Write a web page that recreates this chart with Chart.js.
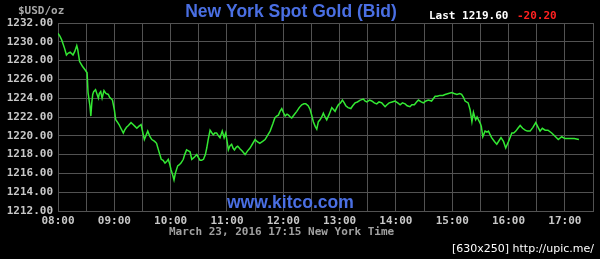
<!DOCTYPE html>
<html>
<head>
<meta charset="utf-8">
<script src="https://cdn.jsdelivr.net/npm/chart.js@4/dist/chart.umd.min.js"></script>
<style>
html,body{margin:0;padding:0;background:#000;}
#wrap{position:relative;width:600px;height:259px;background:#000;}
canvas{display:block;}
</style>
</head>
<body>
<div id="wrap"><canvas id="c" width="600" height="259"></canvas></div>
<script>
// Minutes after 08:00 (New York time)
const minutes = [0,2,4,7,9,11,13,16,18,20,21,23,26,29,31,32,34,35,36,37,38,40,42,43,44,45.5,47,49,51,53.6,55,58,60,61.5,63,65,67,69.6,71,73,75,77.8,80,82,84,86,88.5,90,92,94,95.6,98,100,103,105,107,110,112,114,116,117.5,119,120.4,122,123.6,125,127.5,129,131,133.5,135,137,139,140.7,142.5,145,147.8,149.5,151.3,153,155,157,158.5,160,162,164,165.5,167,169,171,172.6,175,177,178.7,180,181.5,183,185,186.5,188,190,191.5,194,196,199.3,202,204.6,207,210,212,215,218,220.6,223,226,229,231,233,234.8,236.5,238.4,240,242,244,245.6,247.5,249,252,254.4,257,259.7,262,264,266.5,268.6,270,272,274,275.7,277.4,279.2,281,282.7,284.5,286.3,289,291.7,293.5,295.2,297,298.7,301,303,305,306.6,309,312,314,316.5,319,322,325.4,327,329,332,334.3,337,339.6,342,345,348.5,350.5,352.8,356,359,362,364.5,367,369.8,372,375,377,379.7,382,384,387,389.3,392,394.6,398,401.8,404,407,410,412.4,416,419.5,422,425,428,430,432,433.7,437,439,441,442.6,444,445,446.5,448,450,451,452.6,455,457,458.6,460,462,465,467.5,470,472,474.6,477,480,482,483.5,485.5,487.8,490,492.4,495,497.7,500,503,506,509,511,513.6,516,519,522,526,529,533,536.7,540,545,550,555];
const bid = [1230.9,1230.6,1230.2,1229.3,1228.6,1228.8,1228.9,1228.6,1229.0,1229.6,1229.2,1227.9,1227.4,1227.0,1226.7,1224.6,1223.2,1222.1,1223.5,1224.4,1224.7,1224.9,1224.3,1224.0,1224.5,1224.7,1224.0,1224.8,1224.5,1224.4,1224.1,1223.8,1222.8,1221.7,1221.5,1221.2,1220.8,1220.3,1220.6,1220.9,1221.1,1221.4,1221.2,1221.0,1220.8,1221.0,1221.2,1220.5,1219.6,1220.1,1220.5,1219.9,1219.6,1219.4,1219.2,1218.5,1217.5,1217.4,1217.1,1217.3,1217.5,1217.0,1216.4,1215.9,1215.3,1216.0,1216.8,1216.9,1217.1,1217.5,1218.0,1218.5,1218.4,1218.3,1217.5,1217.7,1218.0,1217.7,1217.4,1217.4,1217.5,1218.0,1218.7,1219.6,1220.6,1220.3,1220.1,1220.3,1220.3,1220.0,1219.8,1220.5,1219.8,1220.3,1219.5,1218.5,1218.9,1219.1,1218.7,1218.5,1218.8,1218.9,1218.6,1218.4,1218.0,1218.4,1218.7,1219.1,1219.6,1219.4,1219.2,1219.4,1219.6,1220.0,1220.5,1221.3,1221.9,1222.1,1222.2,1222.6,1222.9,1222.5,1222.1,1222.3,1222.2,1222.0,1221.9,1222.3,1222.6,1223.0,1223.3,1223.4,1223.4,1223.2,1222.8,1222.3,1221.5,1221.0,1220.7,1221.5,1221.7,1222.0,1222.4,1222.0,1221.7,1222.3,1223.0,1222.8,1222.6,1223.0,1223.3,1223.5,1223.8,1223.5,1223.2,1223.0,1222.9,1223.2,1223.5,1223.6,1223.8,1223.9,1223.7,1223.6,1223.8,1223.7,1223.5,1223.4,1223.6,1223.5,1223.1,1223.3,1223.5,1223.6,1223.7,1223.5,1223.3,1223.5,1223.4,1223.2,1223.1,1223.3,1223.3,1223.6,1223.8,1223.6,1223.5,1223.7,1223.8,1223.7,1224.2,1224.2,1224.3,1224.3,1224.4,1224.5,1224.6,1224.5,1224.4,1224.5,1224.4,1224.1,1223.7,1223.5,1222.8,1221.5,1222.5,1222.0,1221.7,1222.0,1221.7,1221.3,1221.0,1219.9,1220.5,1220.4,1220.5,1220.2,1219.8,1219.4,1219.1,1219.5,1219.8,1219.4,1218.7,1219.4,1219.9,1220.3,1220.3,1220.5,1220.8,1221.1,1220.8,1220.6,1220.5,1220.5,1220.9,1221.4,1221.0,1220.5,1220.8,1220.6,1220.6,1220.3,1220.0,1219.6,1219.9,1219.7,1219.7,1219.7,1219.6];
const hourLabels = ['08:00','09:00','10:00','11:00','12:00','13:00','14:00','15:00','16:00','17:00'];
const titleText = 'New York Spot Gold (Bid)';
const unitText = '$USD/oz';
const lastText = 'Last 1219.60';
const changeText = '-20.20';
const siteText = 'www.kitco.com';
const dateText = 'March 23, 2016 17:15 New York Time';
const footText = '[630x250] http://upic.me/';

const overlay = {
  id: 'overlay',
  afterDraw(chart) {
    const ctx = chart.ctx;
    ctx.save();
    ctx.textBaseline = 'middle';
    // title
    ctx.font = 'bold 17.5px "Liberation Sans", Arial, sans-serif';
    ctx.fillStyle = '#4a6fe3';
    ctx.textAlign = 'center';
    ctx.fillText(titleText, 291, 12);
    // unit
    ctx.font = 'bold 11px "DejaVu Sans Mono", monospace';
    ctx.fillStyle = '#a8a8a8';
    ctx.textAlign = 'left';
    ctx.fillText(unitText, 18, 11);
    // last
    ctx.fillStyle = '#ffffff';
    ctx.fillText(lastText, 429, 16);
    ctx.fillStyle = '#ff2020';
    ctx.fillText(changeText, 517, 16);
    // site
    ctx.font = 'bold 17.5px "Liberation Sans", Arial, sans-serif';
    ctx.fillStyle = '#4a6fe3';
    ctx.textAlign = 'left';
    ctx.fillText(siteText, 227, 203);
    // date
    ctx.font = 'bold 11px "DejaVu Sans Mono", monospace';
    ctx.fillStyle = '#a0a0a0';
    ctx.fillText(dateText, 169, 232);
    // footer
    ctx.font = '11px "DejaVu Sans", sans-serif';
    ctx.fillStyle = '#ffffff';
    ctx.textAlign = 'right';
    ctx.fillText(footText, 594, 249);
    ctx.restore();
  }
};

new Chart(document.getElementById('c'), {
  type: 'line',
  data: {
    datasets: [{
      data: minutes.map((m, i) => ({x: m, y: bid[i]})),
      borderColor: '#33e833',
      borderWidth: 1.5,
      pointRadius: 0,
      tension: 0,
      fill: false
    }]
  },
  options: {
    responsive: false,
    animation: false,
    events: [],
    layout: {padding: {top: 23, right: 7, left: 0, bottom: 0}},
    plugins: {legend: {display: false}, tooltip: {enabled: false}, title: {display: false}},
    scales: {
      x: {
        type: 'linear',
        min: 0, max: 570,
        offset: false,
        afterFit(s) { s.height = 48; },
        grid: {color: '#525252', lineWidth: 1, drawTicks: false},
        border: {color: '#525252'},
        ticks: {
          stepSize: 30, autoSkip: false, maxRotation: 0, padding: 4,
          color: '#c8c8c8',
          font: {family: '"DejaVu Sans Mono", monospace', size: 11, weight: 'bold'},
          callback: v => (v % 60 === 0 ? hourLabels[v / 60] : '')
        }
      },
      y: {
        min: 1212, max: 1232,
        afterFit(s) { s.width = 58; },
        grid: {color: '#525252', lineWidth: 1, drawTicks: false},
        border: {color: '#525252'},
        ticks: {
          stepSize: 2, padding: 5,
          color: '#c8c8c8',
          font: {family: '"DejaVu Sans Mono", monospace', size: 11, weight: 'bold'},
          callback: v => v.toFixed(2)
        }
      }
    }
  },
  plugins: [overlay]
});
</script>
</body>
</html>
